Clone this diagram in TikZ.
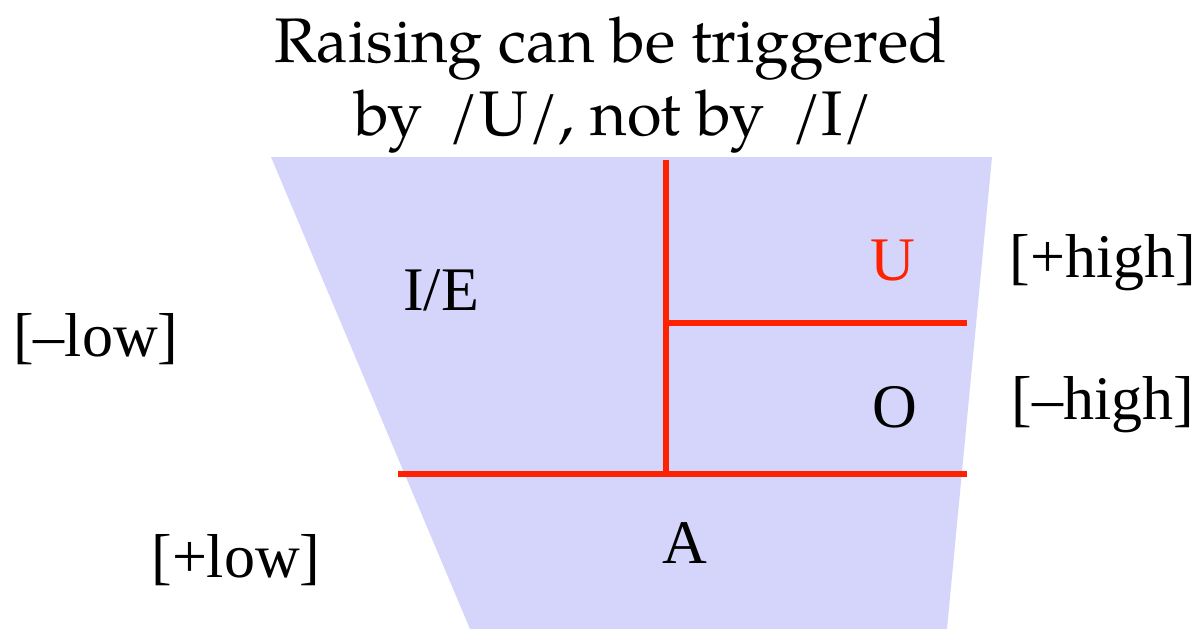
\documentclass[tikz,border=0pt]{standalone}
\usepackage{fontspec}
\setmainfont{Liberation Serif}
\newfontfamily\titlefont{TeX Gyre Pagella}
\newfontfamily\lblfont{Liberation Serif}
\definecolor{lav}{RGB}{213,213,251}
\definecolor{vred}{RGB}{255,34,0}
\begin{document}
\begin{tikzpicture}[x=1pt,y=-1pt,
  lbl/.style={inner sep=0pt,font=\lblfont\fontsize{62}{72}\selectfont},
  ttl/.style={inner sep=0pt,align=center,font=\titlefont\fontsize{63}{73}\selectfont},
  divider/.style={draw=vred,line width=6pt}]
\useasboundingbox (0,0) rectangle (1197,629);
\fill[lav] (271,157) -- (992,157) -- (947,629) -- (470,629) -- cycle;
\coordinate (vtop) at (666,160);
\coordinate (vbot) at (666,474);
\coordinate (hmidL) at (666,323);
\coordinate (hmidR) at (967,323);
\coordinate (hlowL) at (398,474);
\coordinate (hlowR) at (967,474);
\draw[divider] (vtop) -- (vbot);
\draw[divider] (hmidL) -- (hmidR);
\draw[divider] (hlowL) -- (hlowR);
\node[ttl,anchor=base] (t1) at (611,62) {Raising can be triggered};
\node[ttl,anchor=base] (t2) at (614,135) {by\, /U/, not by\, /I/};
\node[lbl,anchor=base] (ie) at (441,310) {I/E};
\node[lbl,anchor=base,text=vred] (u) at (893,280) {U};
\node[lbl,anchor=base] (o) at (895,427) {O};
\node[lbl,anchor=base] (a) at (685,563) {A};
\node[lbl,anchor=base] (ph) at (1103,277) {[+high]};
\node[lbl,anchor=base] (mh) at (1103,419) {[–high]};
\node[lbl,anchor=base] (ml) at (96,356) {[–low]};
\node[lbl,anchor=base] (pl) at (236,577) {[+low]};
\end{tikzpicture}
\end{document}
